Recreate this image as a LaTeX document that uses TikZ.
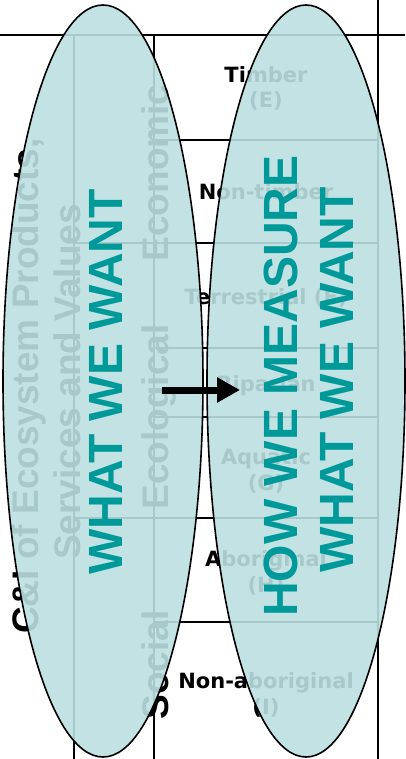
\documentclass[tikz,border=0pt]{standalone}
\usepackage{fontspec}
\setmainfont{Liberation Sans}
\newfontfamily\cellfont{DejaVu Sans}
\usetikzlibrary{shapes.geometric,arrows.meta}
\definecolor{bubblefill}{RGB}{187,223,225}
\definecolor{wantteal}{RGB}{0,153,153}

\begin{document}
\begin{tikzpicture}[x=1pt,y=-1pt,
  grid/.style={line width=2.5pt},
  sidetext/.style={rotate=90,anchor=base,inner sep=0pt,font=\fontsize{37}{42}\selectfont\bfseries},
  cell/.style={anchor=base,align=center,inner sep=0pt,font=\cellfont\fontsize{21}{25.5}\selectfont\bfseries},
  bubble/.style={ellipse,draw=black,line width=1.6pt,fill=bubblefill,fill opacity=.9,minimum height=752pt,inner sep=0pt},
  slogan/.style={rotate=90,anchor=base,inner sep=0pt,text=wantteal,font=\fontsize{48}{52}\selectfont\bfseries}]
\useasboundingbox (0,0) rectangle (405,759);
% table under the bubbles
\draw[grid] (0,35)--(405,35) (378,0)--(378,759) (74,35)--(74,759) (154,35)--(154,759);
\draw[grid] (74,243)--(378,243) (74,518)--(378,518);
\draw[grid] (154,140)--(378,140) (154,348)--(378,348) (154,417)--(378,417) (154,622)--(378,622);
\node[sidetext] (ci) at (38,386) {C\&I of Ecosystem Products,};
\node[sidetext] (esv) at (80,382) {Services and Values};
\node[sidetext] (econ) at (168,173) {Economic};
\node[sidetext] (ecol) at (168,417) {Ecological};
\node[sidetext] (soc) at (168,665) {Social};
% base of a two-line cell is its last line
\node[cell] (timber) at (266,108) {Timber\\(E)};
\node[cell] (nontimber) at (266,200) {Non-timber};
\node[cell] (terr) at (266,304) {Terrestrial (F)};
\node[cell] (rip) at (266,391) {Riparian};
\node[cell] (aqua) at (266,490) {Aquatic\\(G)};
\node[cell] (abor) at (266,592) {Aboriginal\\(H)};
\node[cell] (nonabor) at (266,714) {Non-aboriginal\\(I)};
% the two bubbles
\node[bubble,minimum width=200pt] (want) at (103,381) {};
\node[bubble,minimum width=198pt] (measure) at (306,381) {};
\node[slogan] (wantA) at (122,382) {WHAT WE WANT};
\node[slogan] (how) at (297,386) {HOW WE MEASURE};
\node[slogan] (wantB) at (353,380) {WHAT WE WANT};
\coordinate (from) at (162,390);
\coordinate (to) at (240,390);
\draw[line width=7pt,-{Triangle[length=23pt,width=24pt]}] (from)--(to);
\end{tikzpicture}
\end{document}
